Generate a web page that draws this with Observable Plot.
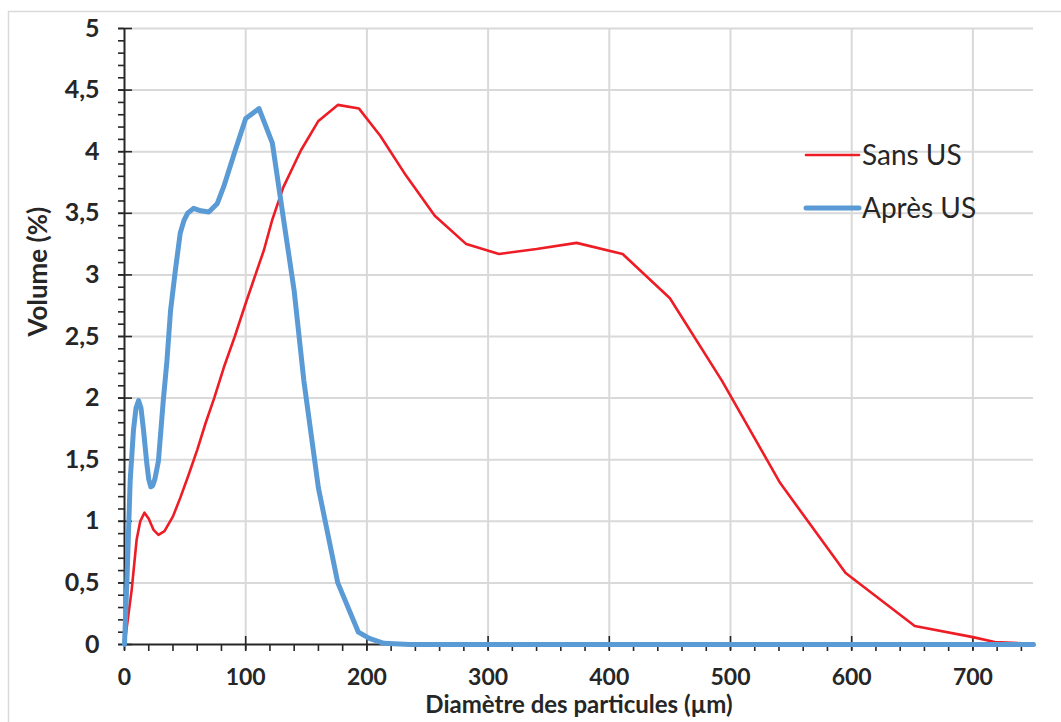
<!DOCTYPE html>
<html>
<head>
<meta charset="utf-8">
<script src="https://cdn.jsdelivr.net/npm/d3@7"></script>
<script src="https://cdn.jsdelivr.net/npm/@observablehq/plot@0.6"></script>
<style>
  html, body { margin: 0; padding: 0; background: #fff; }
  #chart { position: relative; width: 1061px; height: 722px; }
</style>
</head>
<body>
<div id="chart"></div>
<script>
// ---- Data ----
const sansUS_x = [0, 6, 10, 13, 16.5, 20, 24, 28, 33, 40, 46, 53, 60, 67, 74, 82, 91, 100, 108, 115, 122, 131, 145.5, 160, 176, 193.5, 211, 232, 256, 282, 309, 340, 373, 411, 450, 493, 541, 595, 652, 700, 718, 750];
const sansUS_y = [0, 0.45, 0.85, 1.0, 1.07, 1.02, 0.93, 0.89, 0.92, 1.04, 1.19, 1.38, 1.58, 1.8, 2.0, 2.25, 2.5, 2.77, 3.0, 3.2, 3.45, 3.71, 4.01, 4.25, 4.38, 4.35, 4.13, 3.81, 3.48, 3.25, 3.17, 3.21, 3.26, 3.17, 2.81, 2.14, 1.31, 0.58, 0.15, 0.06, 0.02, 0.005];

const apresUS_x = [0, 2, 4.7, 7.4, 9.5, 11.6, 13.6, 15.7, 18.4, 20, 21.7, 23.3, 25, 28, 32, 35, 38, 42, 46, 49, 52, 57, 63, 69.6, 76.6, 82, 91, 100, 111, 122, 132, 140, 148, 160, 176, 193, 202, 214, 235, 300, 400, 500, 600, 700, 750];
const apresUS_y = [0, 0.52, 1.33, 1.74, 1.92, 1.98, 1.92, 1.74, 1.47, 1.34, 1.28, 1.29, 1.34, 1.49, 1.98, 2.3, 2.71, 3.04, 3.34, 3.44, 3.5, 3.54, 3.52, 3.51, 3.58, 3.72, 4.0, 4.27, 4.35, 4.07, 3.4, 2.87, 2.14, 1.27, 0.5, 0.1, 0.05, 0.01, 0, 0, 0, 0, 0, 0, 0];

const seriesNames = ["Sans US", "Après US"];
const seriesColors = ["#ee1c25", "#5b9bd5"];

const yMajorTicks = [0, 0.5, 1, 1.5, 2, 2.5, 3, 3.5, 4, 4.5, 5];
const yMinorTicks = d3.range(0, 51).map(i => i / 10);
const xMajorTicks = [0, 100, 200, 300, 400, 500, 600, 700];
const xMinorTicks = d3.range(0, 38).map(i => i * 20);

const xTitle = "Diamètre des particules (µm)";
const yTitle = "Volume (%)";

// ---- Build table ----
const sans = sansUS_x.map((x, i) => ({x, y: sansUS_y[i]}));
const apres = apresUS_x.map((x, i) => ({x, y: apresUS_y[i]}));
const fmt = d => String(d).replace(".", ",");

const axisColor = "#262626";
const gridColor = "#d9d9d9";
const font = "Lato, 'Open Sans', sans-serif";

const plot = Plot.plot({
  width: 1061,
  height: 722,
  marginLeft: 124,
  marginRight: 28,
  marginTop: 28,
  marginBottom: 78,
  style: {fontFamily: font, color: axisColor, background: "transparent"},
  x: {domain: [0, 750]},
  y: {domain: [0, 5]},
  marks: [
    Plot.gridY(yMajorTicks.filter(d => d > 0), {stroke: gridColor, strokeOpacity: 1, strokeWidth: 2}),
    Plot.gridX(xMajorTicks.filter(d => d > 0), {stroke: gridColor, strokeOpacity: 1, strokeWidth: 2}),
    // y axis ticks
    Plot.axisY(yMinorTicks, {tickSize: 6, text: null, stroke: axisColor, strokeWidth: 1.6, label: null}),
    Plot.axisY(yMajorTicks, {tickSize: 14, dx: 8, text: null, stroke: axisColor, strokeWidth: 1.6, label: null}),
    Plot.axisY(yMajorTicks, {tickSize: 0, tickPadding: 25, tickFormat: fmt, fontSize: 25, fontWeight: "bold", fill: axisColor, label: null}),
    // x axis ticks
    Plot.axisX(xMinorTicks, {tickSize: 7, text: null, stroke: axisColor, strokeWidth: 1.6, label: null}),
    Plot.axisX(xMajorTicks, {tickSize: 14, dy: -8, text: null, stroke: axisColor, strokeWidth: 1.6, label: null}),
    Plot.axisX(xMajorTicks, {tickSize: 0, tickPadding: 24, fontSize: 23, fontWeight: "bold", fill: axisColor, label: null}),
    // axis lines
    Plot.ruleX([0], {stroke: axisColor, strokeWidth: 2}),
    Plot.ruleY([0], {stroke: axisColor, strokeWidth: 2}),
    // series
    Plot.line(sans, {x: "x", y: "y", stroke: seriesColors[0], strokeWidth: 2.6, curve: "linear"}),
    Plot.line(apres, {x: "x", y: "y", stroke: seriesColors[1], strokeWidth: 5, curve: "linear", strokeLinejoin: "round"}),
    // axis titles
    Plot.text([yTitle], {frameAnchor: "left", dx: -86, rotate: -90, text: d => d, fontSize: 26, fontWeight: "bold", fill: axisColor}),
    Plot.text([xTitle], {frameAnchor: "bottom", dx: 0, dy: 68, text: d => d, fontSize: 24, fontWeight: "bold", fill: axisColor})
  ]
});

// outer chart border
d3.select(plot).insert("rect", ":first-child")
  .attr("x", 8.5).attr("y", 11.5).attr("width", 1100).attr("height", 800)
  .attr("fill", "none").attr("stroke", gridColor).attr("stroke-width", 1.5);

// legend
const lg = d3.select(plot).append("g").attr("class", "legend");
seriesNames.forEach((name, i) => {
  const yy = 155 + i * 53;
  lg.append("line").attr("x1", 806).attr("x2", 859).attr("y1", yy).attr("y2", yy)
    .attr("stroke", seriesColors[i]).attr("stroke-width", i === 0 ? 2.6 : 5).attr("stroke-linecap", "round");
  lg.append("text").attr("x", 862).attr("y", yy).attr("dy", "0.35em")
    .attr("text-anchor", "start")
    .attr("font-size", 28).attr("fill", axisColor).attr("font-family", font).text(name);
});

document.getElementById("chart").appendChild(plot);
</script>
</body>
</html>
